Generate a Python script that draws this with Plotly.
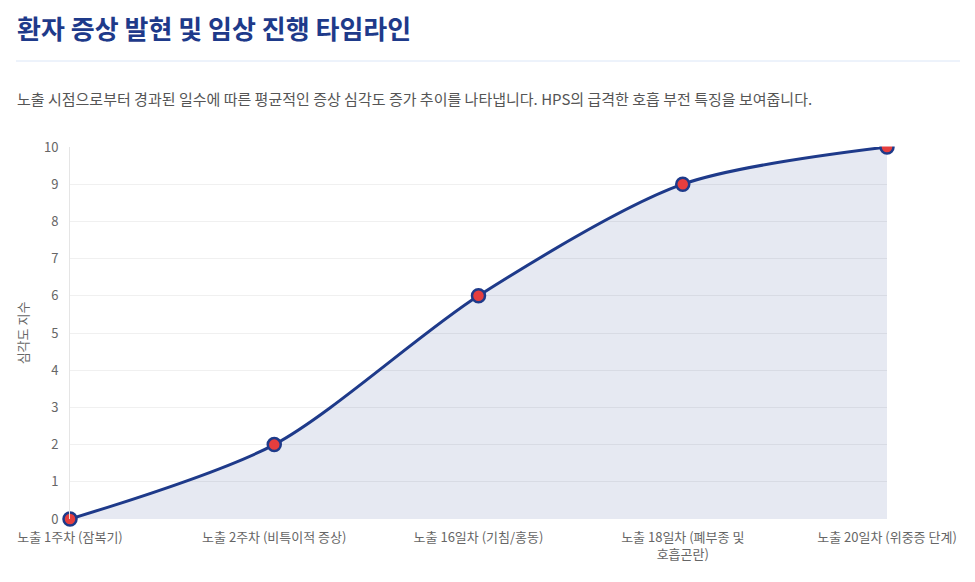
"""Symptom onset / clinical progression timeline (severity index by exposure day)."""
import plotly.graph_objects as go

# ── Data ──────────────────────────────────────────────────────────────────────
STAGES = [
    '노출 1주차 (잠복기)',
    '노출 2주차 (비특이적 증상)',
    '노출 16일차 (기침/홍동)',
    '노출 18일차 (폐부종 및<br>호흡곤란)',
    '노출 20일차 (위중증 단계)',
]
SEVERITY = [0, 2, 6, 9, 10]
Y_TICKS = list(range(0, 11))

TITLE = '환자 증상 발현 및 임상 진행 타임라인'
SUBTITLE = ('노출 시점으로부터 경과된 일수에 따른 평균적인 증상 심각도 증가 추이를 나타냅니다. '
            'HPS의 급격한 호흡 부전 특징을 보여줍니다.')
Y_TITLE = '심각도 지수'

# ── Style ─────────────────────────────────────────────────────────────────────
NAVY     = '#1e3a8a'
RED      = '#e53e3e'
FILL     = 'rgba(30,58,138,0.11)'
GRID     = '#f0f0f0'
TICK_COL = '#666666'
FONT     = 'Noto Sans CJK KR'

# ── Geometry (page pixels; the page body adds an 8px offset) ──────────────────
OFF = 8
W, H = 975 - 2 * OFF, 582 - 2 * OFF
PLOT_X0, PLOT_X1 = 70, 887       # plot area in page pixels
PLOT_Y0, PLOT_Y1 = 147, 519
L, T = PLOT_X0 - OFF, PLOT_Y0 - OFF
R, B = W - (PLOT_X1 - OFF), H - (PLOT_Y1 - OFF)
PW, PH = W - L - R, H - T - B


def px_x(x):
    return (x - OFF - L) / PW


def px_y(y):
    return (H - B - (y - OFF)) / PH


fig = go.Figure()
fig.add_trace(go.Scatter(
    x=STAGES, y=SEVERITY,
    mode='lines+markers',
    line=dict(color=NAVY, width=3, shape='spline', smoothing=0.8),
    fill='tozeroy', fillcolor=FILL,
    marker=dict(size=13, color=RED, line=dict(color=NAVY, width=2.5)),
    cliponaxis=False,
    hoverinfo='x+y',
    showlegend=False,
))

fig.update_layout(
    width=W, height=H,
    margin=dict(l=L, r=R, t=T, b=B, autoexpand=False),
    paper_bgcolor='white', plot_bgcolor='white',
    font=dict(family=FONT, size=13, color=TICK_COL),
    annotations=[
        dict(text=f'<b>{TITLE}</b>', x=px_x(15), y=px_y(27), xref='paper', yref='paper',
             xanchor='left', yanchor='middle', showarrow=False,
             font=dict(size=26, color=NAVY, family=FONT)),
        dict(text=SUBTITLE, x=px_x(15), y=px_y(99), xref='paper', yref='paper',
             xanchor='left', yanchor='middle', showarrow=False,
             font=dict(size=15, color='#555555', family=FONT)),
    ],
    shapes=[
        dict(type='line', xref='paper', yref='paper',
             x0=px_x(16), x1=px_x(960), y0=px_y(61), y1=px_y(61),
             line=dict(color='#dbe6f7', width=1)),
        # canvas top edge crops the upper half of the last marker in the original
        dict(type='rect', xref='paper', yref='paper', layer='above',
             x0=px_x(860), x1=px_x(915), y0=px_y(146.5), y1=px_y(135),
             fillcolor='white', line=dict(width=0)),
    ],
)

fig.update_xaxes(
    type='category', range=[0, len(STAGES) - 1],
    showgrid=False, zeroline=False, automargin=False,
    showline=False, ticks='', ticklabelstandoff=9,
    tickfont=dict(size=13, color=TICK_COL),
)
fig.update_yaxes(
    range=[0, 10], tickvals=Y_TICKS, automargin=False,
    showgrid=True, gridcolor=GRID, gridwidth=1,
    zeroline=False, showline=True, linecolor='#e5e5e5',
    ticks='', ticklabelstandoff=8,
    tickfont=dict(size=13, color=TICK_COL),
    title=dict(text=Y_TITLE, standoff=12, font=dict(size=13, color=TICK_COL)),
)

fig.write_html('out.html')
